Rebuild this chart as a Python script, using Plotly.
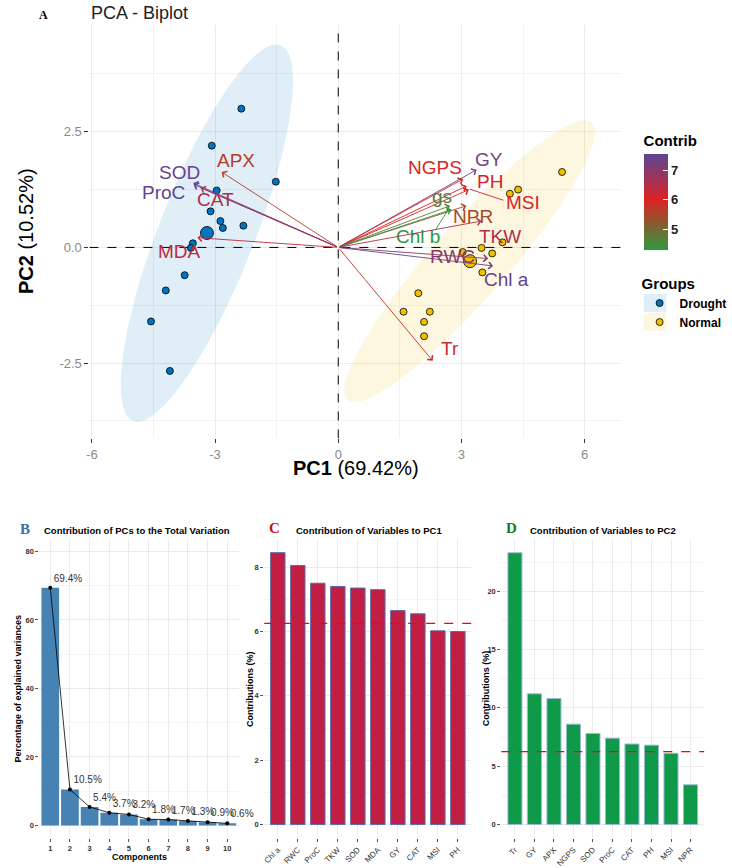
import numpy as np
import plotly.graph_objects as go
from plotly.colors import sample_colorscale

W, H = 732, 868

# ---------------- data ----------------
drought_pc1 = [-2.36, -3.08, -1.52, -2.96, -3.11, -2.87, -2.81, -2.31, -3.54, -3.59, -3.74, -4.20, -4.56, -4.10]
drought_pc2 = [3.00, 2.20, 1.42, 1.23, 0.78, 0.57, 0.42, 0.47, 0.09, -0.01, -0.60, -0.93, -1.60, -2.67]
normal_pc1 = [5.45, 4.38, 4.18, 4.00, 3.49, 3.75, 3.03, 3.20, 3.51, 1.95, 1.59, 2.23, 2.09, 2.09]
normal_pc2 = [1.63, 1.25, 1.16, 0.11, -0.01, -0.13, -0.10, -0.24, -0.54, -0.99, -1.39, -1.39, -1.61, -1.92]

var_names = ["SOD", "ProC", "CAT", "APX", "MDA", "GY", "NGPS", "PH", "MSI", "NPR", "gs", "Chl b", "TKW", "RWC", "Chl a", "Tr"]
var_pc1 = [-3.53, -3.52, -3.35, -2.84, -3.43, 3.37, 3.04, 3.13, 3.18, 3.12, 2.72, 2.76, 3.49, 3.65, 3.77, 2.30]
var_pc2 = [1.39, 1.36, 1.29, 1.63, 0.21, 1.68, 1.48, 1.33, 1.25, 0.90, 0.90, 0.82, 0.57, -0.24, -0.40, -2.45]
var_contrib = [7.41, 7.49, 6.60, 5.65, 6.35, 7.25, 5.95, 6.10, 6.05, 5.45, 4.75, 4.32, 6.55, 7.00, 7.40, 5.85]
label_pc1 = [-3.87, -4.26, -2.98, -2.49, -3.87, 3.66, 2.35, 3.69, 4.49, 3.27, 2.52, 1.94, 3.93, 2.78, 4.09, 2.72]
label_pc2 = [1.61, 1.19, 1.03, 1.87, -0.09, 1.90, 1.72, 1.42, 0.97, 0.67, 1.10, 0.24, 0.24, -0.19, -0.69, -2.19]

# confidence ellipses: centre, half major axis vector, half minor axis vector (PC units)
ell_drought = dict(c=(-3.20, 0.31), a=(1.80, 4.06), b=(1.08, -0.38))
ell_normal = dict(c=(3.20, -0.30), a=(2.98, 3.00), b=(0.68, -0.54))

scree_comp = [1, 2, 3, 4, 5, 6, 7, 8, 9, 10]
scree_var = [69.4, 10.5, 5.4, 3.7, 3.2, 1.8, 1.7, 1.3, 0.9, 0.6]

pc1_vars = ["Chl a", "RWC", "ProC", "TKW", "SOD", "MDA", "GY", "CAT", "MSI", "PH"]
pc1_contrib = [8.45, 8.05, 7.50, 7.40, 7.35, 7.30, 6.65, 6.55, 6.02, 6.00]
pc2_vars = ["Tr", "GY", "APX", "NGPS", "SOD", "ProC", "CAT", "PH", "MSI", "NPR"]
pc2_contrib = [23.3, 11.2, 10.8, 8.6, 7.8, 7.4, 6.9, 6.8, 6.1, 3.4]
expected = 6.25

# ---------------- helpers ----------------
def px(x):
    return x / W

def py(y):
    return 1 - y / H

cmin, cmax = 4.3, 7.55
cscale = [[0.0, "#2e9a3e"], [(6 - cmin) / (cmax - cmin), "#dc2222"], [1.0, "#5b4694"]]

def ccol(v):
    return sample_colorscale(cscale, [(v - cmin) / (cmax - cmin)])[0]

def ellipse(e):
    t = np.linspace(0, 2 * np.pi, 200)
    x = e["c"][0] + np.cos(t) * e["a"][0] + np.sin(t) * e["b"][0]
    y = e["c"][1] + np.cos(t) * e["a"][1] + np.sin(t) * e["b"][1]
    return x, y

FONT = "Liberation Sans, Arial, sans-serif"
SERIF = "Liberation Serif, Times New Roman, serif"

fig = go.Figure()

# ---------------- biplot ----------------
for e, col in [(ell_drought, "rgba(0,115,194,0.12)"), (ell_normal, "rgba(239,192,0,0.12)")]:
    ex, ey = ellipse(e)
    fig.add_trace(go.Scatter(x=ex, y=ey, mode="lines", fill="toself", fillcolor=col,
                             line=dict(width=0), showlegend=False, hoverinfo="skip",
                             xaxis="x", yaxis="y"))

fig.add_trace(go.Scatter(x=drought_pc1, y=drought_pc2, mode="markers", name="Drought",
                         marker=dict(size=7, color="#0073C2", line=dict(color="black", width=0.8)),
                         xaxis="x", yaxis="y"))
fig.add_trace(go.Scatter(x=normal_pc1, y=normal_pc2, mode="markers", name="Normal",
                         marker=dict(size=7, color="#EFC000", line=dict(color="black", width=0.8)),
                         xaxis="x", yaxis="y"))
fig.add_trace(go.Scatter(x=[np.mean(drought_pc1)], y=[np.mean(drought_pc2)], mode="markers",
                         marker=dict(size=13, color="#0073C2", line=dict(color="black", width=0.8)),
                         showlegend=False, xaxis="x", yaxis="y"))
fig.add_trace(go.Scatter(x=[np.mean(normal_pc1)], y=[np.mean(normal_pc2)], mode="markers",
                         marker=dict(size=13, color="#EFC000", line=dict(color="black", width=0.8)),
                         showlegend=False, xaxis="x", yaxis="y"))

# colorbar carrier
fig.add_trace(go.Scatter(x=[None], y=[None], mode="markers", showlegend=False, hoverinfo="skip",
                         marker=dict(color=[5], colorscale=cscale, cmin=cmin, cmax=cmax, showscale=True,
                                     colorbar=dict(x=px(645), xanchor="left", y=py(251), yanchor="bottom",
                                                   lenmode="pixels", len=118, thickness=24, ypad=0, xpad=0,
                                                   outlinewidth=0,
                                                   tickvals=[5, 6, 7], ticks="inside", ticklen=5,
                                                   tickcolor="white",
                                                   tickfont=dict(family=FONT, size=13, color="#222", weight="bold"),
                                                   title=dict(text="<b>Contrib</b>", side="top",
                                                              font=dict(family=FONT, size=15, color="black")))),
                         xaxis="x", yaxis="y"))

annotations = []
shapes = []

# zero lines
shapes.append(dict(type="line", xref="x", yref="y", x0=0, x1=0, y0=-4.13, y1=4.81,
                   line=dict(color="black", width=1, dash="dash")))
shapes.append(dict(type="line", xref="x", yref="y", x0=-6.06, x1=6.88, y0=0, y1=0,
                   line=dict(color="black", width=1, dash="dash")))

# repel connector segments
for name, (x0, y0, x1, y1) in {"MSI": (3.20, 1.26, 4.02, 1.02), "Chl b": (2.37, 0.38, 2.68, 0.82)}.items():
    i = var_names.index(name)
    shapes.append(dict(type="line", xref="x", yref="y", x0=x0, y0=y0, x1=x1, y1=y1,
                       line=dict(color=ccol(var_contrib[i]), width=0.9)))

for i, n in enumerate(var_names):
    c = ccol(var_contrib[i])
    annotations.append(dict(x=var_pc1[i], y=var_pc2[i], ax=0, ay=0, xref="x", yref="y",
                            axref="x", ayref="y", text="", showarrow=True, arrowhead=4,
                            arrowsize=1.5, arrowwidth=0.9, arrowcolor=c, standoff=0))
    annotations.append(dict(x=label_pc1[i], y=label_pc2[i], xref="x", yref="y", text=n,
                            showarrow=False, font=dict(family=FONT, size=19, color=c)))

# biplot texts
annotations += [
    dict(x=px(34), y=py(15), xref="paper", yref="paper", text="<b>A</b>", showarrow=False,
         font=dict(family=SERIF, size=12, color="black"), xanchor="left", yanchor="middle"),
    dict(x=px(87), y=py(13), xref="paper", yref="paper", text="PCA - Biplot", showarrow=False,
         font=dict(family=FONT, size=18, color="#222"), xanchor="left", yanchor="middle"),
    dict(x=px(355), y=py(470), xref="paper", yref="paper", text="<b>PC1</b> (69.42%)", showarrow=False,
         font=dict(family=FONT, size=20, color="black"), xanchor="center", yanchor="middle"),
    dict(x=px(23), y=py(232), xref="paper", yref="paper", text="<b>PC2</b> (10.52%)", showarrow=False,
         textangle=-90, font=dict(family=FONT, size=20, color="black"), xanchor="center", yanchor="middle"),
]

# legend key backgrounds
shapes.append(dict(type="rect", xref="paper", yref="paper", x0=px(645), x1=px(668), y0=py(313), y1=py(295),
                   fillcolor="rgba(0,115,194,0.12)", line=dict(width=0), layer="below"))
shapes.append(dict(type="rect", xref="paper", yref="paper", x0=px(645), x1=px(668), y0=py(332), y1=py(314),
                   fillcolor="rgba(239,192,0,0.12)", line=dict(width=0), layer="below"))

# ---------------- panel B: scree ----------------
fig.add_trace(go.Bar(x=scree_comp, y=scree_var, marker=dict(color="#4682B4", line=dict(width=0)),
                     width=0.9, showlegend=False, xaxis="x2", yaxis="y2"))
fig.add_trace(go.Scatter(x=scree_comp, y=scree_var, mode="lines+markers+text",
                         text=[f"{v}%" for v in scree_var], textposition="top right",
                         textfont=dict(family=FONT, size=10, color="#333"),
                         line=dict(color="black", width=0.8), marker=dict(color="black", size=4),
                         showlegend=False, cliponaxis=False, xaxis="x2", yaxis="y2"))

# ---------------- panel C ----------------
fig.add_trace(go.Bar(x=pc1_vars, y=pc1_contrib, marker=dict(color="#C21E44", line=dict(color="#5a6aaa", width=1)),
                     width=0.72, showlegend=False, xaxis="x3", yaxis="y3"))
# ---------------- panel D ----------------
fig.add_trace(go.Bar(x=pc2_vars, y=pc2_contrib, marker=dict(color="#0E9A48", line=dict(color="#9ab8d8", width=1)),
                     width=0.72, showlegend=False, xaxis="x4", yaxis="y4"))

# expected-contribution reference lines (drawn across each panel's width)
shapes.append(dict(type="line", xref="paper", yref="y3", x0=px(263), x1=px(471.7), y0=expected, y1=expected,
                   line=dict(color="#ff0000", width=1.2, dash="dash"), layer="above"))
shapes.append(dict(type="line", xref="paper", yref="y4", x0=px(501.7), x1=px(706), y0=expected, y1=expected,
                   line=dict(color="#ff0000", width=1.2, dash="dash"), layer="above"))

TY = 532
annotations += [
    dict(x=px(22), y=py(TY - 1), xref="paper", yref="paper", text="<b>B</b>", showarrow=False,
         font=dict(family=SERIF, size=15, color="#3d6fa8"), xanchor="center", yanchor="middle"),
    dict(x=px(39), y=py(TY), xref="paper", yref="paper", text="<b>Contribution of PCs to the Total Variation</b>",
         showarrow=False, font=dict(family=FONT, size=9.5, color="black"), xanchor="left", yanchor="middle"),
    dict(x=px(273), y=py(TY - 2), xref="paper", yref="paper", text="<b>C</b>", showarrow=False,
         font=dict(family=SERIF, size=15, color="#cc1111"), xanchor="center", yanchor="middle"),
    dict(x=px(293), y=py(TY), xref="paper", yref="paper", text="<b>Contribution of Variables to PC1</b>",
         showarrow=False, font=dict(family=FONT, size=9.5, color="black"), xanchor="left", yanchor="middle"),
    dict(x=px(512), y=py(TY - 2), xref="paper", yref="paper", text="<b>D</b>", showarrow=False,
         font=dict(family=SERIF, size=15, color="#137a1f"), xanchor="center", yanchor="middle"),
    dict(x=px(529), y=py(TY), xref="paper", yref="paper", text="<b>Contribution of Variables to PC2</b>",
         showarrow=False, font=dict(family=FONT, size=9.5, color="black"), xanchor="left", yanchor="middle"),
    dict(x=px(137), y=py(860), xref="paper", yref="paper", text="<b>Components</b>", showarrow=False,
         font=dict(family=FONT, size=9, color="black"), xanchor="center", yanchor="middle"),
    dict(x=px(15), y=py(691), xref="paper", yref="paper", text="<b>Percentage of explained variances</b>",
         showarrow=False, textangle=-90, font=dict(family=FONT, size=9, color="black"),
         xanchor="center", yanchor="middle"),
    dict(x=px(248), y=py(691), xref="paper", yref="paper", text="<b>Contributions (%)</b>",
         showarrow=False, textangle=-90, font=dict(family=FONT, size=9, color="black"),
         xanchor="center", yanchor="middle"),
    dict(x=px(486), y=py(691), xref="paper", yref="paper", text="<b>Contributions (%)</b>",
         showarrow=False, textangle=-90, font=dict(family=FONT, size=9, color="black"),
         xanchor="center", yanchor="middle"),
]

grid = "#ebebeb"
small_tick = dict(family=FONT, size=7.5, color="#333", weight="bold")

def bottom_axes(domain_x, domain_y, yr, dtick_y, xr, anchor_x, anchor_y, tickangle=0):
    xa = dict(domain=domain_x, range=xr, anchor=anchor_y, showgrid=True, gridcolor=grid, gridwidth=1,
              zeroline=False, showline=False, ticks="outside", ticklen=3, tickcolor="#555",
              tickfont=small_tick, tickangle=tickangle, fixedrange=True)
    ya = dict(domain=domain_y, range=yr, anchor=anchor_x, showgrid=True, gridcolor=grid, gridwidth=1,
              zeroline=False, showline=False, ticks="outside", ticklen=3, tickcolor="#555",
              tickfont=small_tick, dtick=dtick_y, tick0=0,
              minor=dict(dtick=dtick_y / 2, tick0=0, showgrid=True, gridcolor="#f4f4f4", gridwidth=0.6),
              fixedrange=True)
    return xa, ya

xa2, ya2 = bottom_axes([px(36.7), px(237.7)], [py(841), py(541)], [-3.7, 83.6], 20, [0.45, 10.6], "x2", "y2")
xa2.update(tickvals=scree_comp, ticktext=[str(c) for c in scree_comp])
xa3, ya3 = bottom_axes([px(263), px(471.7)], [py(841), py(541)], [-0.42, 8.87], 2, [-0.68, 9.68], "x3", "y3", -45)
xa4, ya4 = bottom_axes([px(501.7), px(706)], [py(841), py(541)], [-1.17, 24.47], 5, [-0.7, 9.7], "x4", "y4", -45)
xa3.update(tickfont=dict(family=FONT, size=8, color="#333"))
xa4.update(tickfont=dict(family=FONT, size=8, color="#333"))

fig.update_layout(
    width=W, height=H, margin=dict(l=0, r=0, t=0, b=0),
    paper_bgcolor="white", plot_bgcolor="white",
    font=dict(family=FONT),
    xaxis=dict(domain=[px(87), px(622)], range=[-6.06, 6.88], anchor="y",
               tickvals=[-6, -3, 0, 3, 6], ticktext=["-6", "-3", "0", "3", "6"],
               showgrid=True, gridcolor=grid, gridwidth=1.2, zeroline=False, showline=False,
               minor=dict(tickvals=[-4.5, -1.5, 1.5, 4.5], showgrid=True, gridcolor="#f2f2f2", gridwidth=0.8),
               ticks="outside", ticklen=4, tickcolor="#333",
               tickfont=dict(family=FONT, size=13, color="#8a8a8a"), fixedrange=True),
    yaxis=dict(domain=[py(440), py(25)], range=[-4.13, 4.81], anchor="x",
               tickvals=[-2.5, 0, 2.5], ticktext=["-2.5", "0.0", "2.5"],
               showgrid=True, gridcolor=grid, gridwidth=1.2, zeroline=False, showline=False,
               minor=dict(tickvals=[-3.75, -1.25, 1.25, 3.75], showgrid=True, gridcolor="#f2f2f2", gridwidth=0.8),
               ticks="outside", ticklen=4, tickcolor="#333",
               tickfont=dict(family=FONT, size=13, color="#8a8a8a"), fixedrange=True),
    xaxis2=xa2, yaxis2=ya2, xaxis3=xa3, yaxis3=ya3, xaxis4=xa4, yaxis4=ya4,
    legend=dict(x=px(641), y=py(270), xanchor="left", yanchor="top",
                title=dict(text="<b>Groups</b>", font=dict(family=FONT, size=15, color="black")),
                font=dict(family=FONT, size=12, color="black", weight="bold"),
                bgcolor="rgba(0,0,0,0)", tracegroupgap=0),
    annotations=annotations, shapes=shapes, bargap=0.1,
)

fig.write_html("out.html")
